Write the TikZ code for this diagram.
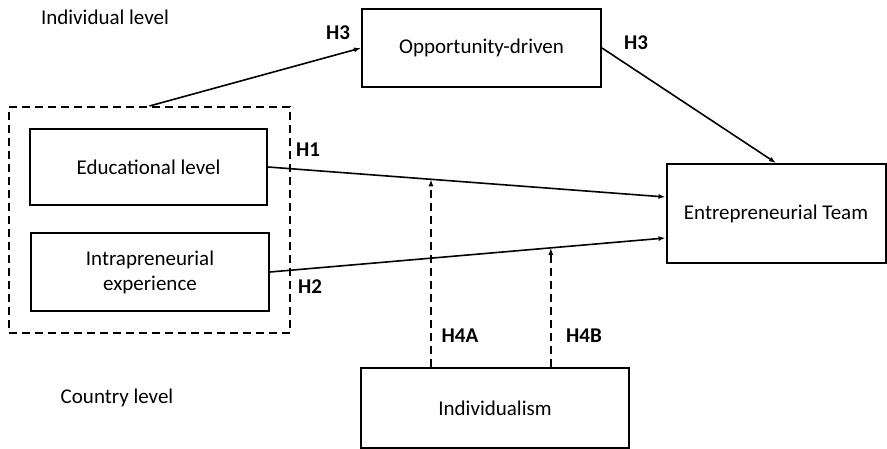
\documentclass[tikz,border=0pt]{standalone}
\usepackage{fontspec}
\setmainfont{Carlito}
\usetikzlibrary{positioning,fit,arrows.meta}

\begin{document}
\begin{tikzpicture}[x=1pt,y=-1pt,
  box/.style={draw,line width=2pt,align=center,inner sep=0pt,font=\fontsize{21}{25}\selectfont},
  hyp/.style={font=\bfseries\fontsize{21}{25}\selectfont,inner sep=0pt},
  lvl/.style={font=\fontsize{21}{25}\selectfont,inner sep=0pt},
  dash8/.style={dash pattern=on 8pt off 5pt},
  link/.style={line width=1.6pt,-{Latex[length=7pt,width=5pt]}}]
 \useasboundingbox (0,0) rectangle (887,449);
 \node[box,minimum width=239pt,minimum height=78pt] (opp) at (481.5,48) {Opportunity-driven};
 \node[box,minimum width=237pt,minimum height=76pt] (edu) at (148.5,167) {Educational level};
 \node[box,minimum width=238pt,minimum height=78pt] (intra) at (150,272) {Intrapreneurial\\experience};
 \node[box,minimum width=219pt,minimum height=99pt] (team) at (776,213.5) {Entrepreneurial Team};
 \node[box,minimum width=268pt,minimum height=80pt] (indiv) at (495,408) {Individualism};
 \node[draw,dash8,line width=2pt,inner xsep=20pt,inner ysep=21pt,fit=(edu)(intra)] (group) {};
 \node[lvl] (indlvl) at (105,17) {Individual level};
 \node[lvl] (ctrlvl) at (117,398) {Country level};
 \coordinate (teamA) at ([yshift=16.5pt]team.west);
 \coordinate (teamB) at ([yshift=-24.5pt]team.west);
 \draw[link] (group.north) -- (opp.west);
 \draw[link] (opp.east) -- (team.north);
 \draw[link] (edu.east) -- coordinate[pos=0.41] (modA) (teamA);
 \draw[link] (intra.east) -- coordinate[pos=0.71] (modB) (teamB);
 \draw[link,dash8] (modA |- indiv.north) -- (modA);
 \draw[link,dash8] (modB |- indiv.north) -- (modB);
 \node[hyp] (h3a) at (338,33) {H3};
 \node[hyp] (h3b) at (636,43) {H3};
 \node[hyp] (h1) at (308,150) {H1};
 \node[hyp] (h2) at (310,287) {H2};
 \node[hyp] (h4a) at (460,336) {H4A};
 \node[hyp] (h4b) at (584,336) {H4B};
\end{tikzpicture}
\end{document}
